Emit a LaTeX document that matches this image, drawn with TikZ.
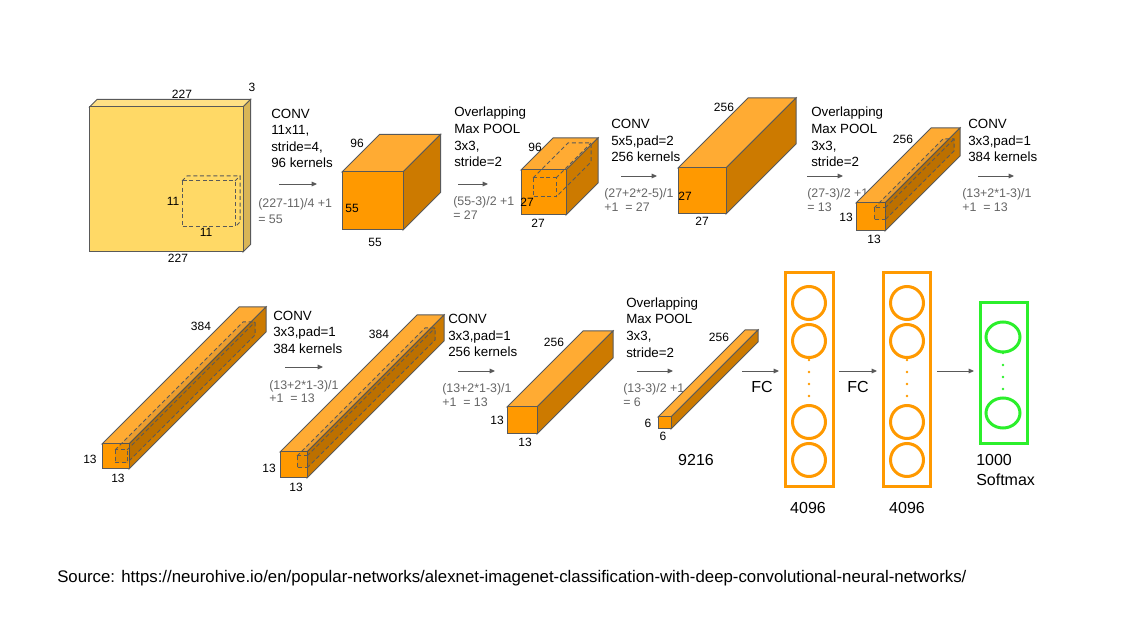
\documentclass[tikz,border=0pt]{standalone}
\usepackage{fontspec}
\setmainfont{Liberation Sans}
\usepackage{xcolor}
\usepackage{tikz}
\usetikzlibrary{arrows.meta,shapes.geometric}
\definecolor{edge}{HTML}{595959}
\definecolor{inputfront}{HTML}{FFD966}
\definecolor{inputtop}{HTML}{FFE085}
\definecolor{inputside}{HTML}{D9B556}
\definecolor{fmapfront}{HTML}{FF9900}
\definecolor{fmaptop}{HTML}{FFAB33}
\definecolor{fmapside}{HTML}{CC7A00}
\definecolor{calcgray}{HTML}{666666}
\definecolor{softgreen}{HTML}{2BEF2B}
\tikzset{
    input front/.style={draw=edge, line width=0.75pt, fill=inputfront},
    input top/.style={draw=edge, line width=0.75pt, fill=inputtop},
    input side/.style={draw=edge, line width=0.75pt, fill=inputside},
    fmap front/.style={draw=edge, line width=0.75pt, fill=fmapfront},
    fmap top/.style={draw=edge, line width=0.75pt, fill=fmaptop},
    fmap side/.style={draw=edge, line width=0.75pt, fill=fmapside},
    kernel/.style={draw=edge, line width=0.75pt, dash pattern=on 3pt off 2pt},
    kernel shade/.style={fill=black, fill opacity=0.08},
    kernel clear/.style={fill=none},
    dim/.style={inner sep=0, font=\fontsize{9}{10}\selectfont},
    spec/.style={anchor=west, align=left, inner sep=0, font=\fontsize{10}{12.4}\selectfont},
    calc/.style={anchor=west, align=left, inner sep=0, text=calcgray, font=\fontsize{9.3}{10}\selectfont},
    big/.style={inner sep=0, font=\fontsize{12}{15}\selectfont},
    arrow/.style={-{Triangle[length=4pt, width=3.5pt]}, line width=0.7pt, draw=edge},
    fcbox/.style={rectangle, draw=#1, line width=2.25pt, inner sep=0},
    neuron/.style={circle, draw=#1, line width=2.25pt, minimum size=24.75pt, inner sep=0}
}
% #1 look, #2 name, #3 x, #4 y (front top left), #5 width, #6 height, #7 depth
\newcommand{\featmap}[7]{%
    \coordinate (#2) at (#3,#4);
    \draw[#1 top] (#2) -- ++(#7,-#7) -- ++(#5,0) -- ++(-#7,#7) -- cycle;
    \draw[#1 side] (#2) ++(#5,0) -- ++(#7,-#7) -- ++(0,#6) -- ++(-#7,#7) -- cycle;
    \draw[#1 front] (#2) rectangle ++(#5,#6);
}
% [#1 shade], #2 name, #3 x, #4 y, #5 width, #6 height, #7 depth
\newcommand{\kernelbox}[7][kernel shade]{%
    \coordinate (#2) at (#3,#4);
    \path[#1] (#2) ++(0,#6) -- ++(0,-#6) -- ++(#7,-#7) -- ++(#5,0) -- ++(0,#6) -- ++(-#7,#7) -- cycle;
    \draw[kernel] (#2) rectangle ++(#5,#6);
    \draw[kernel] (#2) -- ++(#7,-#7) -- ++(#5,0) -- ++(0,#6) -- ++(-#7,#7);
    \draw[kernel] (#2) ++(#5,0) -- ++(#7,-#7);
}

\begin{document}
\begin{tikzpicture}[x=0.75pt, y=-0.75pt]
    \useasboundingbox (0,0) rectangle (1122,620);

    % input
    \featmap{input}{img}{89.5}{107}{153.5}{145}{7.5}
    \kernelbox[kernel clear]{k1}{182}{181}{53}{46}{5}
    \node[dim] (img-w) at (182,94) {227};
    \node[dim] (img-c) at (252,87) {3};
    \node[dim] (img-h) at (178,258) {227};
    \node[dim] (k1-h) at (173,201) {11};
    \node[dim] (k1-w) at (206,232) {11};
    \node[spec] (conv1) at (271,138.5) {CONV\\11x11,\\stride=4,\\96 kernels};
    \coordinate (a1) at (279,184);
    \coordinate (b1) at (317,184);
    \draw[arrow] (a1) -- (b1);
    \node[calc] (f1) at (258,211) {(227-11)/4 +1\\[2pt]= 55};

    % conv1
    \featmap{fmap}{c1}{342}{172}{61}{58}{37.5}
    \node[dim] (c1-d) at (357,143) {96};
    \node[dim] (c1-h) at (352,208) {55};
    \node[dim] (c1-w) at (375,242) {55};
    \node[spec] (pool1) at (454,137) {Overlapping\\Max POOL\\3x3,\\stride=2};
    \coordinate (a2) at (458,184);
    \coordinate (b2) at (488,184);
    \draw[arrow] (a2) -- (b2);
    \node[calc] (f2) at (453,208) {(55-3)/2 +1\\= 27};

    % pool1
    \featmap{fmap}{p1}{521}{170}{45}{45}{32}
    \kernelbox[kernel clear]{k3}{533}{178}{23}{19}{35}
    \node[dim] (p1-d) at (535,147) {96};
    \node[dim] (p1-h) at (527,202) {27};
    \node[dim] (p1-w) at (538,223) {27};
    \node[spec] (conv2) at (611,140.5) {CONV\\5x5,pad=2\\256 kernels};
    \coordinate (a3) at (621,176);
    \coordinate (b3) at (657,176);
    \draw[arrow] (a3) -- (b3);
    \node[calc] (f3) at (604,200) {(27+2*2-5)/1\\+1\ \ = 27};

    % conv2
    \featmap{fmap}{c2}{678}{168}{48}{46}{70}
    \node[dim] (c2-d) at (724,107) {256};
    \node[dim] (c2-h) at (685,196) {27};
    \node[dim] (c2-w) at (702,221) {27};
    \node[spec] (pool2) at (811,137) {Overlapping\\Max POOL\\3x3,\\stride=2};
    \coordinate (a4) at (807,176);
    \coordinate (b4) at (843,176);
    \draw[arrow] (a4) -- (b4);
    \node[calc] (f4) at (807,200) {(27-3)/2 +1\\= 13};

    % pool2
    \featmap{fmap}{p2}{856}{203}{29}{28}{75}
    \kernelbox{k5}{874}{208}{11}{12}{69}
    \node[dim] (p2-d) at (903,139) {256};
    \node[dim] (p2-h) at (846,217) {13};
    \node[dim] (p2-w) at (874,239) {13};
    \node[spec] (conv3) at (968,140.5) {CONV\\3x3,pad=1\\384 kernels};
    \coordinate (a5) at (978,176);
    \coordinate (b5) at (1014,176);
    \draw[arrow] (a5) -- (b5);
    \node[calc] (f5) at (962,200) {(13+2*1-3)/1\\+1\ \ = 13};

    % conv3
    \featmap{fmap}{c3}{102}{444}{27}{25}{137}
    \kernelbox{k6}{115}{450}{12}{13}{128}
    \node[dim] (c3-d) at (201,326) {384};
    \node[dim] (c3-h) at (90,459) {13};
    \node[dim] (c3-w) at (118,478) {13};
    \node[spec] (conv4) at (273,332) {CONV\\3x3,pad=1\\384 kernels};
    \coordinate (a6) at (285,367);
    \coordinate (b6) at (323,367);
    \draw[arrow] (a6) -- (b6);
    \node[calc] (f6) at (269,391.5) {(13+2*1-3)/1\\+1\ \ = 13};

    % conv4
    \featmap{fmap}{c4}{280}{452}{27}{26}{137}
    \kernelbox{k7}{297}{456}{10}{12}{128}
    \node[dim] (c4-d) at (379,334) {384};
    \node[dim] (c4-h) at (269,468) {13};
    \node[dim] (c4-w) at (296,487) {13};
    \node[spec] (conv5) at (448,335.5) {CONV\\3x3,pad=1\\256 kernels};
    \coordinate (a7) at (458,371);
    \coordinate (b7) at (495,371);
    \draw[arrow] (a7) -- (b7);
    \node[calc] (f7) at (442,395) {(13+2*1-3)/1\\+1\ \ = 13};

    % conv5
    \featmap{fmap}{c5}{507}{407}{30}{27}{76}
    \node[dim] (c5-d) at (554,342) {256};
    \node[dim] (c5-h) at (497,420) {13};
    \node[dim] (c5-w) at (525,442) {13};
    \node[spec] (pool3) at (626,327.5) {Overlapping\\Max POOL\\3x3,\\stride=2};
    \coordinate (a8) at (637,371);
    \coordinate (b8) at (673,371);
    \draw[arrow] (a8) -- (b8);
    \node[calc] (f8) at (623,395) {(13-3)/2 +1\\= 6};

    % pool3
    \featmap{fmap}{p3}{658}{417}{13}{12}{87}
    \node[dim] (p3-d) at (719,337) {256};
    \node[dim] (p3-h) at (648,423) {6};
    \node[dim] (p3-w) at (663,436) {6};
    \node[big] (flat) at (696,460) {9216};

    % fully connected
    \node[fcbox=fmapfront, minimum width=36pt, minimum height=159.75pt] (fc6) at (809,379.5) {};
    \node[neuron=fmapfront] (fc6-1) at (809,303) {};
    \node[neuron=fmapfront] (fc6-2) at (809,341) {};
    \node[neuron=fmapfront] (fc6-3) at (809,422) {};
    \node[neuron=fmapfront] (fc6-4) at (809,460) {};
    \fill[fmapfront] (809,360) circle (1.1pt) (809,372) circle (1.1pt) (809,384) circle (1.1pt) (809,396) circle (1.1pt);
    \node[big] (fc6-n) at (808,508) {4096};

    \node[fcbox=fmapfront, minimum width=35.25pt, minimum height=159.75pt] (fc7) at (906.5,379.5) {};
    \node[neuron=fmapfront] (fc7-1) at (907,303) {};
    \node[neuron=fmapfront] (fc7-2) at (907,341) {};
    \node[neuron=fmapfront] (fc7-3) at (907,422) {};
    \node[neuron=fmapfront] (fc7-4) at (907,460) {};
    \fill[fmapfront] (907,360) circle (1.1pt) (907,372) circle (1.1pt) (907,384) circle (1.1pt) (907,396) circle (1.1pt);
    \node[big] (fc7-n) at (907,508) {4096};

    \node[fcbox=softgreen, minimum width=35.25pt, minimum height=105.75pt] (out) at (1003.5,373.5) {};
    \node[ellipse, draw=softgreen, line width=2.25pt, minimum width=25.5pt, minimum height=22.5pt, inner sep=0] (out-1) at (1003,337) {};
    \node[ellipse, draw=softgreen, line width=2.25pt, minimum width=25.5pt, minimum height=22.5pt, inner sep=0] (out-2) at (1003,413) {};
    \fill[softgreen] (1003,353) circle (1.1pt) (1003,365) circle (1.1pt) (1003,377) circle (1.1pt) (1003,389) circle (1.1pt);
    \node[big, anchor=west, align=left] (out-n) at (976,470) {1000\\Softmax};

    \coordinate (a9) at (742,371);
    \coordinate (b9) at (779,371);
    \draw[arrow] (a9) -- (b9);
    \node[big] (fc-l1) at (762,387) {FC};
    \coordinate (a10) at (839,371);
    \coordinate (b10) at (877,371);
    \draw[arrow] (a10) -- (b10);
    \node[big] (fc-l2) at (858,387) {FC};
    \coordinate (a11) at (937,371);
    \coordinate (b11) at (974,371);
    \draw[arrow] (a11) -- (b11);

    \node[anchor=west, inner sep=0, font=\fontsize{12.6}{15}\selectfont] (src) at (57,578) {Source: https://neurohive.io/en/popular-networks/alexnet-imagenet-classification-with-deep-convolutional-neural-networks/};
\end{tikzpicture}
\end{document}
